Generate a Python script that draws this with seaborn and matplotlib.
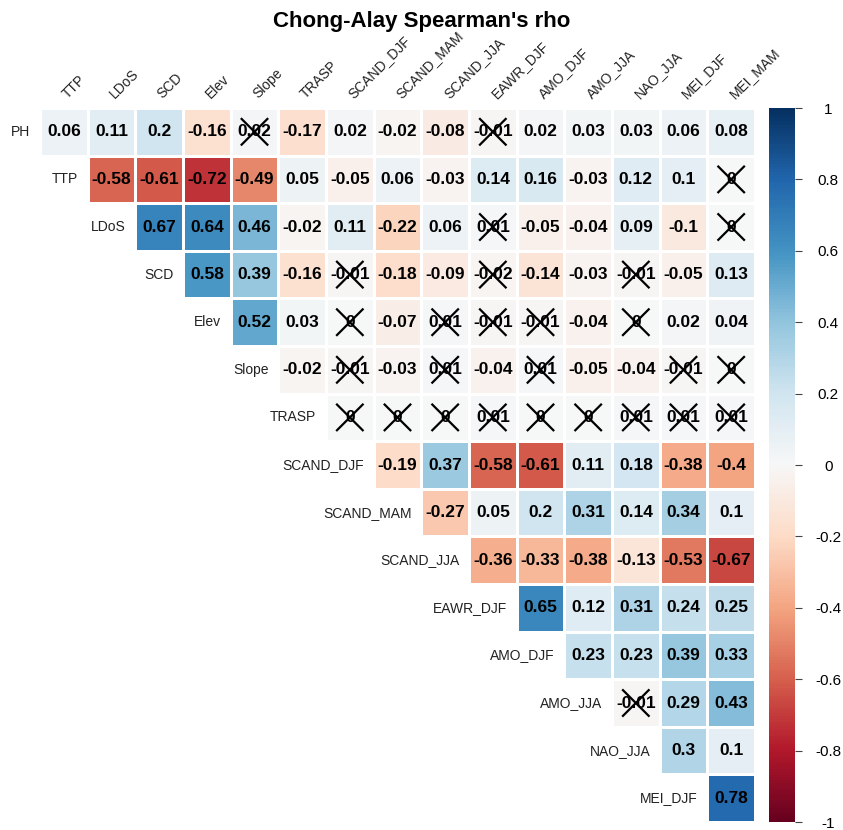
import numpy as np
import pandas as pd
import matplotlib
matplotlib.use("Agg")
import matplotlib.pyplot as plt
import seaborn as sns

row_vars = ["PH", "TTP", "LDoS", "SCD", "Elev", "Slope", "TRASP", "SCAND_DJF",
            "SCAND_MAM", "SCAND_JJA", "EAWR_DJF", "AMO_DJF", "AMO_JJA", "NAO_JJA", "MEI_DJF"]
col_vars = ["TTP", "LDoS", "SCD", "Elev", "Slope", "TRASP", "SCAND_DJF", "SCAND_MAM",
            "SCAND_JJA", "EAWR_DJF", "AMO_DJF", "AMO_JJA", "NAO_JJA", "MEI_DJF", "MEI_MAM"]

# upper-triangle values, each row starts at the column matching its index
r_PH = [0.06, 0.11, 0.2, -0.16, 0.02, -0.17, 0.02, -0.02, -0.08, -0.01, 0.02, 0.03, 0.03, 0.06, 0.08]
r_TTP = [-0.58, -0.61, -0.72, -0.49, 0.05, -0.05, 0.06, -0.03, 0.14, 0.16, -0.03, 0.12, 0.1, 0.0]
r_LDoS = [0.67, 0.64, 0.46, -0.02, 0.11, -0.22, 0.06, 0.01, -0.05, -0.04, 0.09, -0.1, 0.0]
r_SCD = [0.58, 0.39, -0.16, -0.01, -0.18, -0.09, -0.02, -0.14, -0.03, -0.01, -0.05, 0.13]
r_Elev = [0.52, 0.03, 0.0, -0.07, 0.01, -0.01, -0.01, -0.04, 0.0, 0.02, 0.04]
r_Slope = [-0.02, -0.01, -0.03, 0.01, -0.04, 0.01, -0.05, -0.04, -0.01, 0.0]
r_TRASP = [0.0, 0.0, 0.0, 0.01, 0.0, 0.0, 0.01, 0.01, 0.01]
r_SCAND_DJF = [-0.19, 0.37, -0.58, -0.61, 0.11, 0.18, -0.38, -0.4]
r_SCAND_MAM = [-0.27, 0.05, 0.2, 0.31, 0.14, 0.34, 0.1]
r_SCAND_JJA = [-0.36, -0.33, -0.38, -0.13, -0.53, -0.67]
r_EAWR_DJF = [0.65, 0.12, 0.31, 0.24, 0.25]
r_AMO_DJF = [0.23, 0.23, 0.39, 0.33]
r_AMO_JJA = [-0.01, 0.29, 0.43]
r_NAO_JJA = [0.3, 0.1]
r_MEI_DJF = [0.78]

rows = [r_PH, r_TTP, r_LDoS, r_SCD, r_Elev, r_Slope, r_TRASP, r_SCAND_DJF,
        r_SCAND_MAM, r_SCAND_JJA, r_EAWR_DJF, r_AMO_DJF, r_AMO_JJA, r_NAO_JJA, r_MEI_DJF]

# non-significant cells (crossed): row name -> list of column names
insig = {
    "PH": ["Slope", "EAWR_DJF"],
    "TTP": ["MEI_MAM"],
    "LDoS": ["EAWR_DJF", "MEI_MAM"],
    "SCD": ["SCAND_DJF", "EAWR_DJF", "NAO_JJA"],
    "Elev": ["SCAND_DJF", "SCAND_JJA", "EAWR_DJF", "AMO_DJF", "NAO_JJA"],
    "Slope": ["SCAND_DJF", "SCAND_JJA", "AMO_DJF", "MEI_DJF", "MEI_MAM"],
    "TRASP": ["SCAND_DJF", "SCAND_MAM", "SCAND_JJA", "EAWR_DJF", "AMO_DJF",
              "AMO_JJA", "NAO_JJA", "MEI_DJF", "MEI_MAM"],
    "AMO_JJA": ["NAO_JJA"],
}

n = len(row_vars)
mat = np.full((n, n), np.nan)
for i, vals in enumerate(rows):
    mat[i, i:i + len(vals)] = vals
df = pd.DataFrame(mat, index=row_vars, columns=col_vars)
mask = np.isnan(mat)

fig = plt.figure(figsize=(8.43, 8.30), dpi=100)
ax = fig.add_axes([40 / 843, 1 - 822 / 830, 715 / 843, 714 / 830])
cax = fig.add_axes([769 / 843, 1 - 822 / 830, 26 / 843, 714 / 830])

sns.heatmap(df, mask=mask, cmap="RdBu", vmin=-1, vmax=1, ax=ax, cbar_ax=cax,
            linewidths=0.8, linecolor="white", square=False,
            xticklabels=False, yticklabels=False)
ax.set_xlabel("")
ax.set_ylabel("")

font = "Liberation Sans"
for i in range(n):
    for j in range(i, n):
        v = mat[i, j]
        txt = "0" if v == 0 else ("%g" % v)
        ax.text(j + 0.5, i + 0.5, txt, ha="center", va="center", fontsize=12.5,
                fontweight="bold", color="black", family=font)
    for cname in insig.get(row_vars[i], []):
        j = col_vars.index(cname)
        d = 0.27
        ax.plot([j + 0.5 - d, j + 0.5 + d], [i + 0.5 - d, i + 0.5 + d], color="black", lw=1.6)
        ax.plot([j + 0.5 - d, j + 0.5 + d], [i + 0.5 + d, i + 0.5 - d], color="black", lw=1.6)
    # row label, left of the first cell in row
    ax.text(i - 0.2, i + 0.5, row_vars[i], ha="right", va="center", fontsize=10,
            color="#222222", family=font)

for j, cname in enumerate(col_vars):
    ax.text(j + 0.62, -0.15, cname, rotation=45, rotation_mode="anchor",
            ha="left", va="bottom", fontsize=10, color="#222222", family=font)

ax.set_xlim(0, n)
ax.set_ylim(n, 0)

cbar = ax.collections[0].colorbar
ticks = [1, 0.8, 0.6, 0.4, 0.2, 0, -0.2, -0.4, -0.6, -0.8, -1]
cbar.set_ticks(ticks)
cbar.set_ticklabels(["%g" % t for t in ticks])
cax.tick_params(labelsize=11, length=5, width=0.8, color="#444444", pad=19)
for lab in cax.get_yticklabels():
    lab.set_family(font)
    lab.set_horizontalalignment("center")
cbar.outline.set_visible(False)

fig.text(0.5, 1 - 22 / 830, "Chong-Alay Spearman's rho", ha="center", va="center",
         fontsize=16, fontweight="bold", family=font)

fig.savefig("out.png", dpi=100)
